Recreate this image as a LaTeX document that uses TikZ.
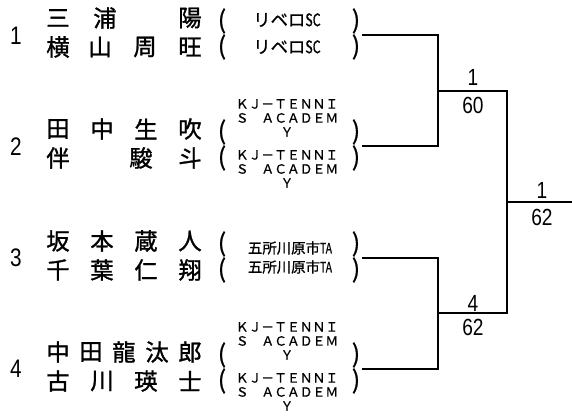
\documentclass[tikz,border=0pt]{standalone}
\usepackage{fontspec}
\usepackage{graphicx}
\newfontfamily\jp[FakeBold=1.2]{Noto Sans CJK JP}
\newfontfamily\jps[FakeBold=0.8]{Noto Sans CJK JP}
\newfontfamily\num{Liberation Sans}
\tikzset{
  nm/.style={inner sep=0pt, font=\jp\fontsize{17.5pt}{17.5pt}\selectfont},
  par/.style={inner sep=0pt, font=\jps\fontsize{18.5pt}{18.5pt}\selectfont},
  club/.style={inner sep=0pt, font=\jps\fontsize{13pt}{13pt}\selectfont},
  clubs/.style={inner sep=0pt, font=\jps\fontsize{10.8pt}{10.8pt}\selectfont},
  kj/.style={inner sep=0pt, font=\jps\fontsize{9.6pt}{9.6pt}\selectfont},
  seed/.style={inner sep=0pt, font=\num\fontsize{19pt}{19pt}\selectfont},
  score/.style={inner sep=0pt, font=\num\fontsize{17.5pt}{17.5pt}\selectfont},
  br/.style={line width=2pt, black}
}
\newcommand{\namerow}[3]{\foreach \xx/\cc [count=\ii] in {#3} {\node[nm] (#1-\ii) at (\xx,#2) {\cc};}}
\newcommand{\nar}[1]{\scalebox{0.72}[1]{#1}}
\newcommand{\nnum}[1]{\scalebox{0.82}[1]{#1}}
\begin{document}
\begin{tikzpicture}[x=0.75pt,y=-0.75pt]
\useasboundingbox (0,0) rectangle (572,416);
% seeds
\node[seed] (seed1) at (16,36) {\nnum{1}};
\node[seed] (seed2) at (16,147) {\nnum{2}};
\node[seed] (seed3) at (16,258) {\nnum{3}};
\node[seed] (seed4) at (16,369) {\nnum{4}};
% names
\namerow{n1a}{18}{58/三,105/浦,190/陽}
\namerow{n1b}{47}{58/横,100/山,145/周,190/旺}
\namerow{n2a}{129}{58/田,102/中,146/生,190/吹}
\namerow{n2b}{158}{58/伴,141/駿,190/斗}
\namerow{n3a}{241}{58/坂,102/本,146/蔵,190/人}
\namerow{n3b}{270}{58/千,102/葉,146/仁,190/翔}
\namerow{n4a}{352}{58/中,91/田,124/龍,157/汰,190/郎}
\namerow{n4b}{381}{58/古,102/川,146/瑛,190/士}
% parentheses
\foreach \g/\y in {1/21,2/132,3/244,4/355}{
  \node[par] (pl\g a) at (222,\y) {(};
  \node[par] (pr\g a) at (356,\y) {)};
}
\foreach \g/\y in {1/47,2/158,3/270,4/381}{
  \node[par] (pl\g b) at (222,\y) {(};
  \node[par] (pr\g b) at (356,\y) {)};
}
% clubs
\node[club] (c1a) at (287,20) {リベロ\nar{SC}};
\node[club] (c1b) at (287,47) {リベロ\nar{SC}};
\node[clubs] (c3a) at (290,248) {五所川原市\nar{TA}};
\node[clubs] (c3b) at (290,267) {五所川原市\nar{TA}};
\foreach \g/\y in {2a/104,2b/155,4a/327,4b/378}{
  \node[kj] (k\g 1) at (287,\y) {ＫＪ－ＴＥＮＮＩ};
  \node[kj] (k\g 2) at (287,\y+14) {Ｓ　ＡＣＡＤＥＭ};
  \node[kj] (k\g 3) at (287,\y+28) {Ｙ};
}
% bracket
\coordinate (s1) at (362,35);
\coordinate (s2) at (362,146);
\coordinate (s3) at (362,258);
\coordinate (s4) at (362,369);
\coordinate (j1) at (438,91);
\coordinate (j2) at (438,313);
\coordinate (j3) at (507,202);
\coordinate (e) at (572,202);
\draw[br] (s1) -| (j1) |- (s2);
\draw[br] (s3) -| (j2) |- (s4);
\draw[br] (j1) -| (j3) |- (j2);
\draw[br] (j3) -- (e);
% scores
\node[score] (w1) at (473,77) {\nnum{1}};
\node[score] (r1) at (473,105) {\nnum{60}};
\node[score] (w2) at (473,303) {\nnum{4}};
\node[score] (r2) at (473,327) {\nnum{62}};
\node[score] (w3) at (542,190) {\nnum{1}};
\node[score] (r3) at (542,217) {\nnum{62}};
\end{tikzpicture}
\end{document}
